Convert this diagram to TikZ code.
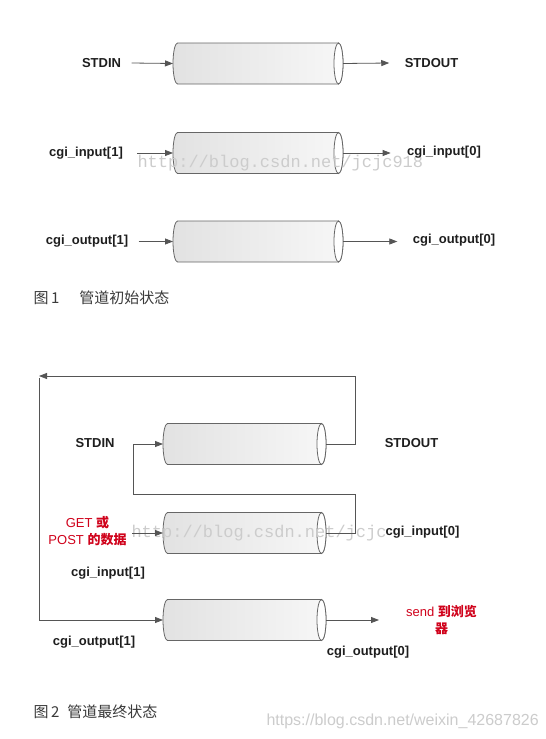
\documentclass[tikz,border=0pt]{standalone}
\usepackage{fontspec}
\setmainfont{Liberation Sans}
\newfontfamily\cjk{Noto Sans CJK SC}
\newfontfamily\wmfont{Liberation Mono}
\usepackage{tikz}
\usetikzlibrary{
  arrows.meta,
  positioning,
}
\definecolor{ink}{HTML}{1E1E1E}
\definecolor{wire}{HTML}{555555}
\definecolor{alert}{HTML}{D0021B}
\definecolor{pipeedge}{HTML}{666666}
\definecolor{pipeleft}{HTML}{E2E2E2}
\definecolor{piperight}{HTML}{F7F7F7}
\definecolor{capgray}{HTML}{3A3A3A}
\definecolor{mark}{HTML}{CCCCCC}
\tikzset{
  >={Triangle[length=8pt,width=6pt]},
  pipe/.style={
    rectangle,
    minimum width=#1,
    minimum height=41pt,
    inner sep=0pt,
    outer sep=0pt,
  },
  pipeline/.style={draw=pipeedge, line width=0.8pt},
  wire/.style={draw=wire, line width=0.8pt},
  lab/.style={font=\fontsize{13}{15}\selectfont\bfseries, text=ink},
  redlab/.style={font=\fontsize{13}{17}\selectfont, text=alert, align=center},
  caption/.style={font=\cjk\fontsize{15}{17}\selectfont, text=capgray, anchor=west},
  wmark/.style={text=mark, anchor=west},
}

\begin{document}
\begin{tikzpicture}[x=1pt,y=1pt]
  \useasboundingbox[fill=white] (0,0) rectangle (546,-739);

  % --- pipes ---
  \node[pipe=170pt] (p1a) at (258,-63.5) {};
  \node[pipe=170pt] (p1b) at (258,-153) {};
  \node[pipe=170pt] (p1c) at (258,-241.5) {};
  \node[pipe=163pt] (p2a) at (244.5,-444) {};
  \node[pipe=163pt] (p2b) at (244.5,-533) {};
  \node[pipe=163pt] (p2c) at (244.5,-620) {};
  \foreach \p in {p1a,p1b,p1c,p2a,p2b,p2c} {
    \draw[pipeline, left color=pipeleft, right color=piperight]
      ([xshift=4.5pt]\p.north west) -- ([xshift=-4.5pt]\p.north east)
      arc[start angle=90, end angle=-90, x radius=4.5pt, y radius=20.5pt]
      -- ([xshift=4.5pt]\p.south west)
      arc[start angle=270, end angle=90, x radius=4.5pt, y radius=20.5pt]
      -- cycle;
    \draw[pipeline, fill=white] ([xshift=-4.5pt]\p.east) ellipse[x radius=4.5pt, y radius=20.5pt];
  }

  % watermarks
  \node[wmark, font=\wmfont\fontsize{17}{19}\selectfont] (wm1) at (134,-163) {http://blog.csdn.net/jcjc918};
  \node[wmark, font=\wmfont\fontsize{17}{19}\selectfont] (wm2) at (128,-533) {http://blog.csdn.net/jcjc918};
  \node[wmark, font=\fontsize{16}{18}\selectfont] (wm3) at (263,-721) {https://blog.csdn.net/weixin\_42687826};

  % --- figure 1: initial state ---
  \node[lab] (stdin1) at (101.5,-63) {STDIN};
  \node[lab] (stdout1) at (431.5,-63) {STDOUT};
  \node[lab] (in1a) at (86,-153) {cgi\_input[1]};
  \node[lab] (in0a) at (444,-152) {cgi\_input[0]};
  \node[lab] (out1a) at (87,-241) {cgi\_output[1]};
  \node[lab] (out0a) at (454,-240) {cgi\_output[0]};

  \draw[wire, ->] ([xshift=7pt]stdin1.east) -- (p1a.west);
  \draw[wire, ->] (p1a.east) -- ([xshift=-12pt]stdout1.west);
  \draw[wire, ->] ([xshift=11pt]in1a.east |- p1b.west) -- (p1b.west);
  \draw[wire, ->] (p1b.east) -- ([xshift=-13pt]in0a.west |- p1b.east);
  \draw[wire, ->] ([xshift=7pt]out1a.east |- p1c.west) -- (p1c.west);
  \draw[wire, ->] (p1c.east) -- ([xshift=-12pt]out0a.west |- p1c.east);

  \node[caption] (cap1) at (30,-298) {图\,1\hspace{20pt}管道初始状态};

  % --- figure 2: final state ---
  \node[lab] (stdin2) at (95,-443) {STDIN};
  \node[lab] (stdout2) at (411.5,-443) {STDOUT};
  \node[lab, fill=white, inner sep=1pt] (in0b) at (422.5,-532) {cgi\_input[0]};
  \node[lab] (in1b) at (108,-573) {cgi\_input[1]};
  \node[lab] (out1b) at (94,-642) {cgi\_output[1]};
  \node[lab] (out0b) at (368,-652) {cgi\_output[0]};
  \node[redlab] (postdata) at (87.5,-531.5) {GET {\cjk\bfseries 或}\\POST {\cjk\bfseries 的数据}};
  \node[redlab] (browser) at (441.5,-620) {send {\cjk\bfseries 到浏览}\\{\cjk\bfseries 器}};

  \coordinate (topR) at (355,-376);
  \coordinate (topL) at (39,-376);
  \coordinate (leftTop) at (39,-378);
  \coordinate (midR) at (355,-494);
  \coordinate (midL) at (133,-494);
  \coordinate (sendIn) at (379,-620);

  \draw[wire, ->] (p2a.east) -| (topR) -- (topL);
  \draw[wire, ->] (leftTop) |- (p2c.west);
  \draw[wire, ->] (p2b.east) -| (midR) -- (midL) |- (p2a.west);
  \draw[wire, ->] ([xshift=2pt]postdata.east |- p2b.west) -- (p2b.west);
  \draw[wire, ->] (p2c.east) -- (sendIn);

  \node[caption] (cap2) at (30,-712) {图\,2\hspace{8pt}管道最终状态};
\end{tikzpicture}
\end{document}
